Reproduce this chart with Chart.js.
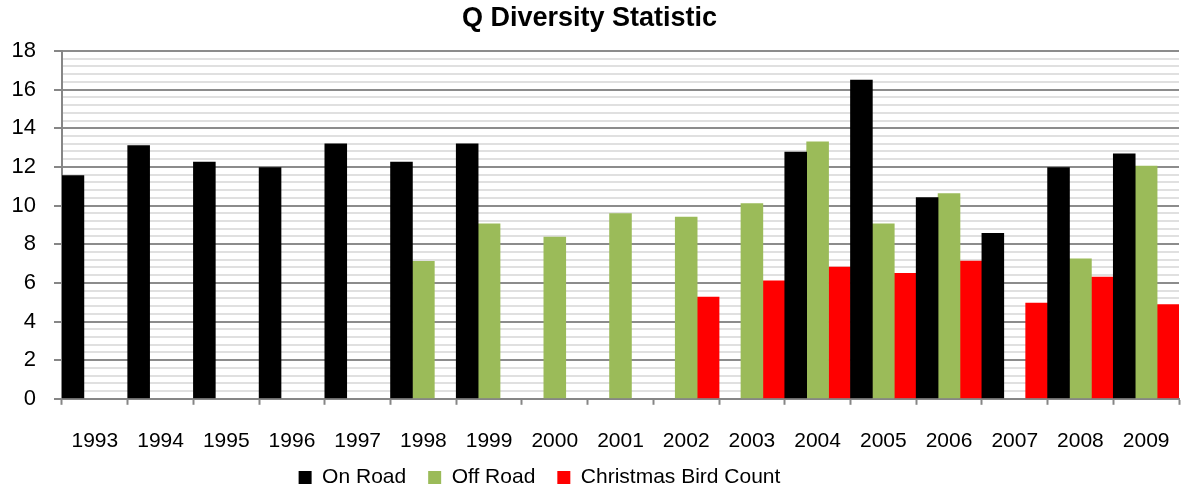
<!DOCTYPE html>
<html>
<head>
<meta charset="utf-8">
<script src="https://cdn.jsdelivr.net/npm/chart.js@4/dist/chart.umd.min.js"></script>
<style>
  html, body { margin: 0; padding: 0; background: #ffffff; }
  #wrap { width: 1181px; height: 493px; }
</style>
</head>
<body>
<div id="wrap"><canvas id="c" width="1181" height="493"></canvas></div>
<script>
const categories = ['1993','1994','1995','1996','1997','1998','1999','2000','2001','2002','2003','2004','2005','2006','2007','2008','2009'];
const onRoad   = [11.55, 13.1, 12.25, 11.97, 13.2, 12.25, 13.2, null, null, null, null, 12.77, 16.5, 10.42, 8.57, 11.97, 12.68];
const offRoad  = [null, null, null, null, null, 7.12, 9.06, 8.37, 9.58, 9.4, 10.1, 13.3, 9.06, 10.62, null, 7.25, 12.05];
const birdCount = [null, null, null, null, null, null, null, null, null, 5.27, 6.1, 6.82, 6.5, 7.13, 4.96, 6.3, 4.87];
const yMajorTicks = [0, 2, 4, 6, 8, 10, 12, 14, 16, 18];
const seriesNames = ['On Road', 'Off Road', 'Christmas Bird Count'];
const titleText = 'Q Diversity Statistic';

const isMajor = v => yMajorTicks.some(t => Math.abs(t - v) < 1e-6);
const fontFamily = "'Liberation Sans', Arial, sans-serif";

// place the legend block left of centre and up into the label band, as in the original layout
const legendShift = {
  id: 'legendShift',
  afterLayout(chart) {
    const lg = chart.legend;
    if (!lg) return;
    lg.right -= 100;
    lg.top = 445;
    lg.bottom = 493;
  }
};

new Chart(document.getElementById('c'), {
  type: 'bar',
  data: {
    labels: categories,
    datasets: [
      { label: seriesNames[0], data: onRoad, backgroundColor: '#000000' },
      { label: seriesNames[1], data: offRoad, backgroundColor: '#9BBB59' },
      { label: seriesNames[2], data: birdCount, backgroundColor: '#FF0000' }
    ]
  },
  plugins: [legendShift],
  options: {
    responsive: false,
    animation: false,
    devicePixelRatio: 1,
    layout: { padding: { left: 0, right: 2, top: 0, bottom: 0 } },
    datasets: { bar: { categoryPercentage: 1.0, barPercentage: 1.0, borderWidth: 0 } },
    plugins: {
      title: {
        display: true,
        text: titleText,
        color: '#000000',
        font: { family: fontFamily, size: 27, weight: 'bold' },
        padding: { top: 2, bottom: 16.6 }
      },
      legend: {
        position: 'bottom',
        maxHeight: 15,
        labels: {
          boxWidth: 13,
          boxHeight: 13,
          padding: 22,
          color: '#000000',
          font: { family: fontFamily, size: 21 }
        }
      },
      tooltip: { enabled: false }
    },
    scales: {
      x: {
        offset: true,
        grid: {
          display: true,
          offset: true,
          drawOnChartArea: false,
          drawTicks: true,
          tickLength: 6,
          tickColor: '#868686',
          tickWidth: 2
        },
        border: { display: true, color: '#868686', width: 2 },
        ticks: {
          color: '#000000',
          padding: 3,
          maxRotation: 0,
          autoSkip: false,
          font: { family: fontFamily, size: 21, lineHeight: 3.2 }
        }
      },
      y: {
        min: 0,
        max: 18,
        ticks: {
          stepSize: 0.4,
          maxTicksLimit: 100,
          autoSkip: false,
          padding: 18,
          color: '#000000',
          font: { family: fontFamily, size: 22 },
          callback: (v) => isMajor(v) ? String(Math.round(v)) : ''
        },
        grid: {
          drawTicks: true,
          tickLength: 8,
          color: (ctx) => isMajor(ctx.tick.value) ? '#8c8c8c' : '#e0e0e0',
          lineWidth: 2,
          tickColor: (ctx) => isMajor(ctx.tick.value) ? '#868686' : 'rgba(0,0,0,0)',
          tickWidth: 2
        },
        border: { display: true, color: '#868686', width: 2 },
        afterFit(scale) { scale.width = 62; }
      }
    }
  }
});
</script>
</body>
</html>
